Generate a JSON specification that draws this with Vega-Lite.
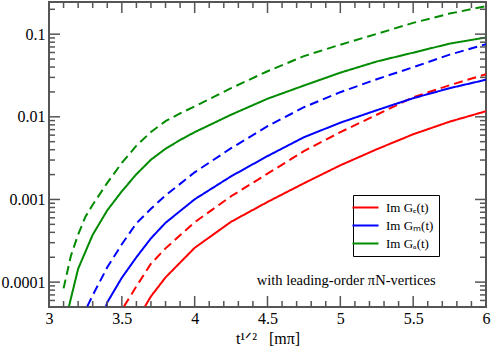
{
  "$schema": "https://vega.github.io/schema/vega-lite/v6.json",
  "width": 437,
  "height": 305,
  "autosize": {"type": "none"},
  "padding": {"left": 49, "top": 2, "right": 5, "bottom": 47},
  "background": "white",
  "config": {
    "view": {"stroke": "#555555", "strokeWidth": 2}
  },
  "datasets": {
    "curves": [
      {"curve": "Im Gₑ(t)", "type": "solid", "x": 3.659, "y": 0.0000509},
      {"curve": "Im Gₑ(t)", "type": "solid", "x": 3.7, "y": 0.0000673},
      {"curve": "Im Gₑ(t)", "type": "solid", "x": 3.8, "y": 0.000114},
      {"curve": "Im Gₑ(t)", "type": "solid", "x": 4.0, "y": 0.00026},
      {"curve": "Im Gₑ(t)", "type": "solid", "x": 4.25, "y": 0.000537},
      {"curve": "Im Gₑ(t)", "type": "solid", "x": 4.5, "y": 0.000933},
      {"curve": "Im Gₑ(t)", "type": "solid", "x": 4.75, "y": 0.00157},
      {"curve": "Im Gₑ(t)", "type": "solid", "x": 5.0, "y": 0.00259},
      {"curve": "Im Gₑ(t)", "type": "solid", "x": 5.25, "y": 0.00405},
      {"curve": "Im Gₑ(t)", "type": "solid", "x": 5.5, "y": 0.00615},
      {"curve": "Im Gₑ(t)", "type": "solid", "x": 5.75, "y": 0.00873},
      {"curve": "Im Gₑ(t)", "type": "solid", "x": 6.0, "y": 0.01169},

      {"curve": "Im Gₑ(t)", "type": "dashed", "x": 3.515, "y": 0.0000509},
      {"curve": "Im Gₑ(t)", "type": "dashed", "x": 3.6, "y": 0.0000889},
      {"curve": "Im Gₑ(t)", "type": "dashed", "x": 3.7, "y": 0.000167},
      {"curve": "Im Gₑ(t)", "type": "dashed", "x": 3.8, "y": 0.000256},
      {"curve": "Im Gₑ(t)", "type": "dashed", "x": 4.0, "y": 0.00053},
      {"curve": "Im Gₑ(t)", "type": "dashed", "x": 4.25, "y": 0.001094},
      {"curve": "Im Gₑ(t)", "type": "dashed", "x": 4.5, "y": 0.00205},
      {"curve": "Im Gₑ(t)", "type": "dashed", "x": 4.75, "y": 0.00384},
      {"curve": "Im Gₑ(t)", "type": "dashed", "x": 5.0, "y": 0.00652},
      {"curve": "Im Gₑ(t)", "type": "dashed", "x": 5.25, "y": 0.0106},
      {"curve": "Im Gₑ(t)", "type": "dashed", "x": 5.5, "y": 0.01725},
      {"curve": "Im Gₑ(t)", "type": "dashed", "x": 5.75, "y": 0.0241},
      {"curve": "Im Gₑ(t)", "type": "dashed", "x": 6.0, "y": 0.0328},

      {"curve": "Im Gₘ(t)", "type": "solid", "x": 3.391, "y": 0.0000509},
      {"curve": "Im Gₘ(t)", "type": "solid", "x": 3.4, "y": 0.0000569},
      {"curve": "Im Gₘ(t)", "type": "solid", "x": 3.5, "y": 0.000113},
      {"curve": "Im Gₘ(t)", "type": "solid", "x": 3.6, "y": 0.0002},
      {"curve": "Im Gₘ(t)", "type": "solid", "x": 3.7, "y": 0.000339},
      {"curve": "Im Gₘ(t)", "type": "solid", "x": 3.8, "y": 0.000522},
      {"curve": "Im Gₘ(t)", "type": "solid", "x": 4.0, "y": 0.001005},
      {"curve": "Im Gₘ(t)", "type": "solid", "x": 4.25, "y": 0.001905},
      {"curve": "Im Gₘ(t)", "type": "solid", "x": 4.5, "y": 0.00335},
      {"curve": "Im Gₘ(t)", "type": "solid", "x": 4.75, "y": 0.00566},
      {"curve": "Im Gₘ(t)", "type": "solid", "x": 5.0, "y": 0.00849},
      {"curve": "Im Gₘ(t)", "type": "solid", "x": 5.25, "y": 0.01202},
      {"curve": "Im Gₘ(t)", "type": "solid", "x": 5.5, "y": 0.0168},
      {"curve": "Im Gₘ(t)", "type": "solid", "x": 5.75, "y": 0.0222},
      {"curve": "Im Gₘ(t)", "type": "solid", "x": 6.0, "y": 0.0281},

      {"curve": "Im Gₘ(t)", "type": "dashed", "x": 3.263, "y": 0.0000509},
      {"curve": "Im Gₘ(t)", "type": "dashed", "x": 3.3, "y": 0.0000692},
      {"curve": "Im Gₘ(t)", "type": "dashed", "x": 3.4, "y": 0.000151},
      {"curve": "Im Gₘ(t)", "type": "dashed", "x": 3.5, "y": 0.000287},
      {"curve": "Im Gₘ(t)", "type": "dashed", "x": 3.6, "y": 0.000515},
      {"curve": "Im Gₘ(t)", "type": "dashed", "x": 3.7, "y": 0.000771},
      {"curve": "Im Gₘ(t)", "type": "dashed", "x": 3.8, "y": 0.00112},
      {"curve": "Im Gₘ(t)", "type": "dashed", "x": 4.0, "y": 0.00213},
      {"curve": "Im Gₘ(t)", "type": "dashed", "x": 4.25, "y": 0.00417},
      {"curve": "Im Gₘ(t)", "type": "dashed", "x": 4.5, "y": 0.00769},
      {"curve": "Im Gₘ(t)", "type": "dashed", "x": 4.75, "y": 0.01306},
      {"curve": "Im Gₘ(t)", "type": "dashed", "x": 5.0, "y": 0.01986},
      {"curve": "Im Gₘ(t)", "type": "dashed", "x": 5.25, "y": 0.0285},
      {"curve": "Im Gₘ(t)", "type": "dashed", "x": 5.5, "y": 0.0398},
      {"curve": "Im Gₘ(t)", "type": "dashed", "x": 5.75, "y": 0.0565},
      {"curve": "Im Gₘ(t)", "type": "dashed", "x": 6.0, "y": 0.0757},

      {"curve": "Im Gₐ(t)", "type": "solid", "x": 3.137, "y": 0.0000509},
      {"curve": "Im Gₐ(t)", "type": "solid", "x": 3.2, "y": 0.000145},
      {"curve": "Im Gₐ(t)", "type": "solid", "x": 3.25, "y": 0.000233},
      {"curve": "Im Gₐ(t)", "type": "solid", "x": 3.3, "y": 0.000374},
      {"curve": "Im Gₐ(t)", "type": "solid", "x": 3.4, "y": 0.000739},
      {"curve": "Im Gₐ(t)", "type": "solid", "x": 3.5, "y": 0.001256},
      {"curve": "Im Gₐ(t)", "type": "solid", "x": 3.6, "y": 0.00202},
      {"curve": "Im Gₐ(t)", "type": "solid", "x": 3.7, "y": 0.00303},
      {"curve": "Im Gₐ(t)", "type": "solid", "x": 3.8, "y": 0.00411},
      {"curve": "Im Gₐ(t)", "type": "solid", "x": 3.9, "y": 0.00524},
      {"curve": "Im Gₐ(t)", "type": "solid", "x": 4.0, "y": 0.00652},
      {"curve": "Im Gₐ(t)", "type": "solid", "x": 4.25, "y": 0.0106},
      {"curve": "Im Gₐ(t)", "type": "solid", "x": 4.5, "y": 0.01655},
      {"curve": "Im Gₐ(t)", "type": "solid", "x": 4.75, "y": 0.0239},
      {"curve": "Im Gₐ(t)", "type": "solid", "x": 5.0, "y": 0.0342},
      {"curve": "Im Gₐ(t)", "type": "solid", "x": 5.25, "y": 0.0467},
      {"curve": "Im Gₐ(t)", "type": "solid", "x": 5.5, "y": 0.0597},
      {"curve": "Im Gₐ(t)", "type": "solid", "x": 5.75, "y": 0.0768},
      {"curve": "Im Gₐ(t)", "type": "solid", "x": 6.0, "y": 0.0912},

      {"curve": "Im Gₐ(t)", "type": "dashed", "x": 3.1, "y": 0.000084},
      {"curve": "Im Gₐ(t)", "type": "dashed", "x": 3.15, "y": 0.000207},
      {"curve": "Im Gₐ(t)", "type": "dashed", "x": 3.2, "y": 0.000376},
      {"curve": "Im Gₐ(t)", "type": "dashed", "x": 3.25, "y": 0.000618},
      {"curve": "Im Gₐ(t)", "type": "dashed", "x": 3.3, "y": 0.000863},
      {"curve": "Im Gₐ(t)", "type": "dashed", "x": 3.4, "y": 0.00159},
      {"curve": "Im Gₐ(t)", "type": "dashed", "x": 3.5, "y": 0.00277},
      {"curve": "Im Gₐ(t)", "type": "dashed", "x": 3.6, "y": 0.00447},
      {"curve": "Im Gₐ(t)", "type": "dashed", "x": 3.7, "y": 0.00655},
      {"curve": "Im Gₐ(t)", "type": "dashed", "x": 3.8, "y": 0.00885},
      {"curve": "Im Gₐ(t)", "type": "dashed", "x": 3.9, "y": 0.0110},
      {"curve": "Im Gₐ(t)", "type": "dashed", "x": 4.0, "y": 0.01334},
      {"curve": "Im Gₐ(t)", "type": "dashed", "x": 4.25, "y": 0.0222},
      {"curve": "Im Gₐ(t)", "type": "dashed", "x": 4.5, "y": 0.0356},
      {"curve": "Im Gₐ(t)", "type": "dashed", "x": 4.75, "y": 0.0542},
      {"curve": "Im Gₐ(t)", "type": "dashed", "x": 5.0, "y": 0.0746},
      {"curve": "Im Gₐ(t)", "type": "dashed", "x": 5.25, "y": 0.1008},
      {"curve": "Im Gₐ(t)", "type": "dashed", "x": 5.5, "y": 0.137},
      {"curve": "Im Gₐ(t)", "type": "dashed", "x": 5.75, "y": 0.1774},
      {"curve": "Im Gₐ(t)", "type": "dashed", "x": 6.0, "y": 0.218}
    ],
    "note": [
      {"x": 5.04, "y": 0.000102, "label": "with leading-order πN-vertices"}
    ],
    "xticks": [
      {"v": 3.5, "kind": "major"}, {"v": 4, "kind": "major"}, {"v": 4.5, "kind": "major"}, {"v": 5, "kind": "major"}, {"v": 5.5, "kind": "major"},
      {"v": 3.1, "kind": "minor"}, {"v": 3.2, "kind": "minor"}, {"v": 3.3, "kind": "minor"}, {"v": 3.4, "kind": "minor"},
      {"v": 3.6, "kind": "minor"}, {"v": 3.7, "kind": "minor"}, {"v": 3.8, "kind": "minor"}, {"v": 3.9, "kind": "minor"},
      {"v": 4.1, "kind": "minor"}, {"v": 4.2, "kind": "minor"}, {"v": 4.3, "kind": "minor"}, {"v": 4.4, "kind": "minor"},
      {"v": 4.6, "kind": "minor"}, {"v": 4.7, "kind": "minor"}, {"v": 4.8, "kind": "minor"}, {"v": 4.9, "kind": "minor"},
      {"v": 5.1, "kind": "minor"}, {"v": 5.2, "kind": "minor"}, {"v": 5.3, "kind": "minor"}, {"v": 5.4, "kind": "minor"},
      {"v": 5.6, "kind": "minor"}, {"v": 5.7, "kind": "minor"}, {"v": 5.8, "kind": "minor"}, {"v": 5.9, "kind": "minor"}
    ],
    "yticks": [
      {"v": 0.0001, "kind": "major"}, {"v": 0.001, "kind": "major"}, {"v": 0.01, "kind": "major"}, {"v": 0.1, "kind": "major"},
      {"v": 0.00006, "kind": "minor"}, {"v": 0.00007, "kind": "minor"}, {"v": 0.00008, "kind": "minor"}, {"v": 0.00009, "kind": "minor"},
      {"v": 0.0002, "kind": "minor"}, {"v": 0.0003, "kind": "minor"}, {"v": 0.0004, "kind": "minor"}, {"v": 0.0005, "kind": "minor"},
      {"v": 0.0006, "kind": "minor"}, {"v": 0.0007, "kind": "minor"}, {"v": 0.0008, "kind": "minor"}, {"v": 0.0009, "kind": "minor"},
      {"v": 0.002, "kind": "minor"}, {"v": 0.003, "kind": "minor"}, {"v": 0.004, "kind": "minor"}, {"v": 0.005, "kind": "minor"},
      {"v": 0.006, "kind": "minor"}, {"v": 0.007, "kind": "minor"}, {"v": 0.008, "kind": "minor"}, {"v": 0.009, "kind": "minor"},
      {"v": 0.02, "kind": "minor"}, {"v": 0.03, "kind": "minor"}, {"v": 0.04, "kind": "minor"}, {"v": 0.05, "kind": "minor"},
      {"v": 0.06, "kind": "minor"}, {"v": 0.07, "kind": "minor"}, {"v": 0.08, "kind": "minor"}, {"v": 0.09, "kind": "minor"},
      {"v": 0.2, "kind": "minor"}
    ]
  },
  "resolve": {"axis": {"x": "independent", "y": "independent"}},
  "layer": [
    {
      "data": {"name": "curves"},
      "mark": {"type": "line", "clip": true, "strokeWidth": 2},
      "encoding": {
        "x": {
          "field": "x", "type": "quantitative",
          "scale": {"domain": [3, 6], "nice": false, "zero": false},
          "axis": {
            "orient": "bottom",
            "values": [3, 3.5, 4, 4.5, 5, 5.5, 6],
            "format": "~g",
            "labelOverlap": false,
            "labelFlush": false,
            "labelFont": "Liberation Serif",
            "labelFontSize": 16,
            "labelColor": "black",
            "grid": false,
            "domain": false,
            "ticks": false,
            "labelPadding": 3,
            "title": "t¹ᐟ²\u00a0\u00a0\u00a0[mπ]",
            "titleFont": "Liberation Serif",
            "titleFontSize": 16,
            "titleFontWeight": "normal",
            "titleColor": "black",
            "titlePadding": 4
          }
        },
        "y": {
          "field": "y", "type": "quantitative",
          "scale": {"type": "log", "domain": [0.00005, 0.245], "nice": false},
          "axis": {
            "orient": "left",
            "values": [0.0001, 0.001, 0.01, 0.1],
            "format": "~g",
            "labelOverlap": false,
            "labelFlush": false,
            "labelFont": "Liberation Serif",
            "labelFontSize": 16,
            "labelColor": "black",
            "grid": false,
            "domain": false,
            "ticks": false,
            "labelPadding": 4,
            "title": null
          }
        },
        "color": {
          "field": "curve", "type": "nominal",
          "scale": {
            "domain": ["Im Gₑ(t)", "Im Gₘ(t)", "Im Gₐ(t)"],
            "range": ["#ff0000", "#0000ff", "#008b00"]
          },
          "legend": {
            "orient": "none",
            "legendX": 304,
            "legendY": 193,
            "title": null,
            "strokeColor": "black",
            "fillColor": "white",
            "padding": 5,
            "symbolType": "M-2,0H2",
            "symbolSize": 169,
            "symbolStrokeWidth": 2,
            "labelFont": "Liberation Serif",
            "labelFontSize": 13,
            "labelColor": "black",
            "labelOffset": 13,
            "rowPadding": 3
          }
        },
        "strokeDash": {
          "field": "type", "type": "nominal",
          "scale": {"domain": ["solid", "dashed"], "range": [[1, 0], [9, 5]]},
          "legend": null
        }
      }
    },
    {
      "data": {"name": "note"},
      "mark": {"type": "text", "font": "Liberation Serif", "fontSize": 14.5, "align": "center", "baseline": "middle", "color": "black"},
      "encoding": {
        "x": {"field": "x", "type": "quantitative", "axis": null},
        "y": {"field": "y", "type": "quantitative", "axis": null},
        "text": {"field": "label"}
      }
    },
    {
      "data": {"name": "xticks"},
      "transform": [{"filter": "datum.kind == 'major'"}],
      "mark": {"type": "tick", "orient": "vertical", "size": 11, "thickness": 1.5, "color": "#555555", "opacity": 1, "yOffset": -5.5},
      "encoding": {
        "x": {"field": "v", "type": "quantitative", "axis": null},
        "y": {"datum": 0.00005, "type": "quantitative", "axis": null}
      }
    },
    {
      "data": {"name": "xticks"},
      "transform": [{"filter": "datum.kind == 'minor'"}],
      "mark": {"type": "tick", "orient": "vertical", "size": 6, "thickness": 1.5, "color": "#555555", "opacity": 1, "yOffset": -3},
      "encoding": {
        "x": {"field": "v", "type": "quantitative", "axis": null},
        "y": {"datum": 0.00005, "type": "quantitative", "axis": null}
      }
    },
    {
      "data": {"name": "xticks"},
      "transform": [{"filter": "datum.kind == 'major'"}],
      "mark": {"type": "tick", "orient": "vertical", "size": 11, "thickness": 1.5, "color": "#555555", "opacity": 1, "yOffset": 5.5},
      "encoding": {
        "x": {"field": "v", "type": "quantitative", "axis": null},
        "y": {"datum": 0.245, "type": "quantitative", "axis": null}
      }
    },
    {
      "data": {"name": "xticks"},
      "transform": [{"filter": "datum.kind == 'minor'"}],
      "mark": {"type": "tick", "orient": "vertical", "size": 6, "thickness": 1.5, "color": "#555555", "opacity": 1, "yOffset": 3},
      "encoding": {
        "x": {"field": "v", "type": "quantitative", "axis": null},
        "y": {"datum": 0.245, "type": "quantitative", "axis": null}
      }
    },
    {
      "data": {"name": "yticks"},
      "transform": [{"filter": "datum.kind == 'major'"}],
      "mark": {"type": "tick", "orient": "horizontal", "size": 11, "thickness": 1.5, "color": "#555555", "opacity": 1, "xOffset": 5.5},
      "encoding": {
        "x": {"datum": 3, "type": "quantitative", "axis": null},
        "y": {"field": "v", "type": "quantitative", "axis": null}
      }
    },
    {
      "data": {"name": "yticks"},
      "transform": [{"filter": "datum.kind == 'minor'"}],
      "mark": {"type": "tick", "orient": "horizontal", "size": 6, "thickness": 1.5, "color": "#555555", "opacity": 1, "xOffset": 3},
      "encoding": {
        "x": {"datum": 3, "type": "quantitative", "axis": null},
        "y": {"field": "v", "type": "quantitative", "axis": null}
      }
    },
    {
      "data": {"name": "yticks"},
      "transform": [{"filter": "datum.kind == 'major'"}],
      "mark": {"type": "tick", "orient": "horizontal", "size": 11, "thickness": 1.5, "color": "#555555", "opacity": 1, "xOffset": -5.5},
      "encoding": {
        "x": {"datum": 6, "type": "quantitative", "axis": null},
        "y": {"field": "v", "type": "quantitative", "axis": null}
      }
    },
    {
      "data": {"name": "yticks"},
      "transform": [{"filter": "datum.kind == 'minor'"}],
      "mark": {"type": "tick", "orient": "horizontal", "size": 6, "thickness": 1.5, "color": "#555555", "opacity": 1, "xOffset": -3},
      "encoding": {
        "x": {"datum": 6, "type": "quantitative", "axis": null},
        "y": {"field": "v", "type": "quantitative", "axis": null}
      }
    }
  ]
}
